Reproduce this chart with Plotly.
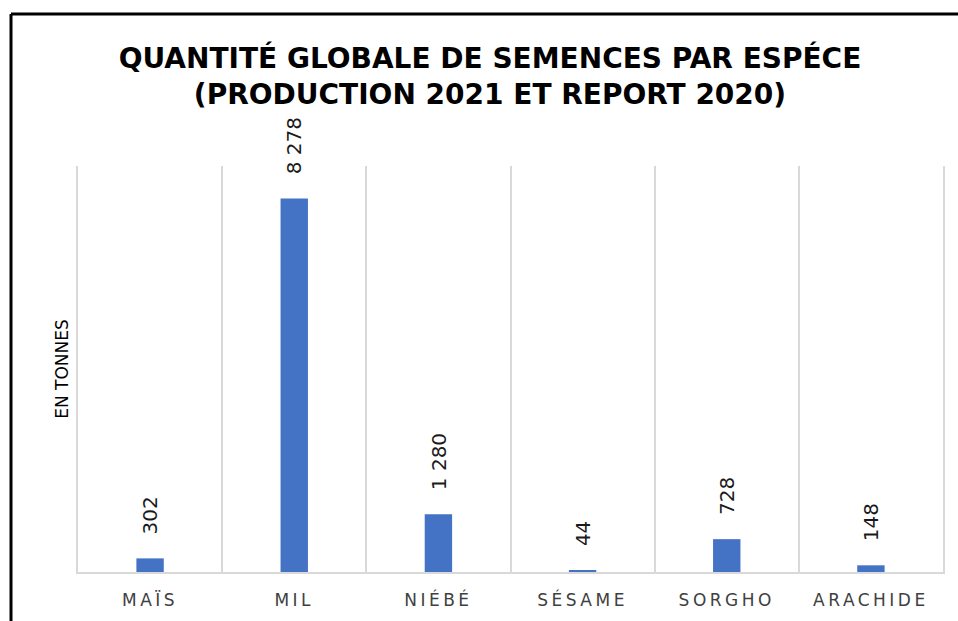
import plotly.graph_objects as go

# ---- data ----
categories = ["MAÏS", "MIL", "NIÉBÉ", "SÉSAME", "SORGHO", "ARACHIDE"]
values = [302, 8278, 1280, 44, 728, 148]
title_lines = ["QUANTITÉ GLOBALE DE SEMENCES PAR ESPÉCE", "(PRODUCTION 2021 ET REPORT 2020)"]
y_title = "EN TONNES"

W, H = 958, 621
ML, MR, MT, MB = 78, 15, 166, 49

def fmt(v):
    return f"{v:,}".replace(",", " ")

fig = go.Figure(
    go.Bar(
        x=categories,
        y=values,
        marker=dict(color="#4472C4", line=dict(width=0)),
        hoverinfo="x+y",
    )
)

for c, v in zip(categories, values):
    fig.add_annotation(
        x=c, y=v, text=fmt(v), showarrow=False, textangle=-90,
        xanchor="center", yanchor="bottom", yshift=22,
        font=dict(family="DejaVu Sans", size=20, color="#1a1a1a"),
    )

pw = W - ML - MR
ph = H - MT - MB
def px2x(px):
    return (px - ML) / pw
def py2y(py):
    return (H - MB - py) / ph

border = dict(color="black", width=3)
fig.add_shape(type="line", xref="paper", yref="paper",
              x0=px2x(11), x1=px2x(W + 5), y0=py2y(14), y1=py2y(14), line=border)
fig.add_shape(type="line", xref="paper", yref="paper",
              x0=px2x(11), x1=px2x(11), y0=py2y(14), y1=py2y(H + 5), line=border)

fig.update_layout(
    width=W, height=H,
    margin=dict(l=ML, r=MR, t=MT, b=MB, pad=0),
    paper_bgcolor="white", plot_bgcolor="white",
    bargap=0.81,
    showlegend=False,
    title=dict(
        text="<br>".join(title_lines),
        x=490 / W, xref="container", xanchor="center",
        y=1 - 68 / H, yref="container", yanchor="middle",
        font=dict(family="DejaVu Sans", size=28, color="black", weight="bold"),
    ),
    xaxis=dict(
        type="category",
        tickson="boundaries",
        showgrid=True, gridcolor="#d9d9d9", gridwidth=2,
        showline=True, linecolor="#d9d9d9", linewidth=2,
        ticks="", ticklabelstandoff=12,
        tickfont=dict(family="DejaVu Sans", size=17, color="#404040"),
        mirror=False,
    ),
    yaxis=dict(
        range=[0, 9000],
        showgrid=False, zeroline=False, showticklabels=False, ticks="",
        showline=True, linecolor="#d9d9d9", linewidth=2, mirror=True,
        title=dict(text=y_title, standoff=3,
                   font=dict(family="DejaVu Sans", size=17, color="black")),
    ),
)

post = """
document.body.style.margin='0';
document.querySelectorAll('.xtick text').forEach(function(t){t.style.letterSpacing='3.5px';});
"""

fig.write_html("out.html", post_script=post, config={"displayModeBar": False})
